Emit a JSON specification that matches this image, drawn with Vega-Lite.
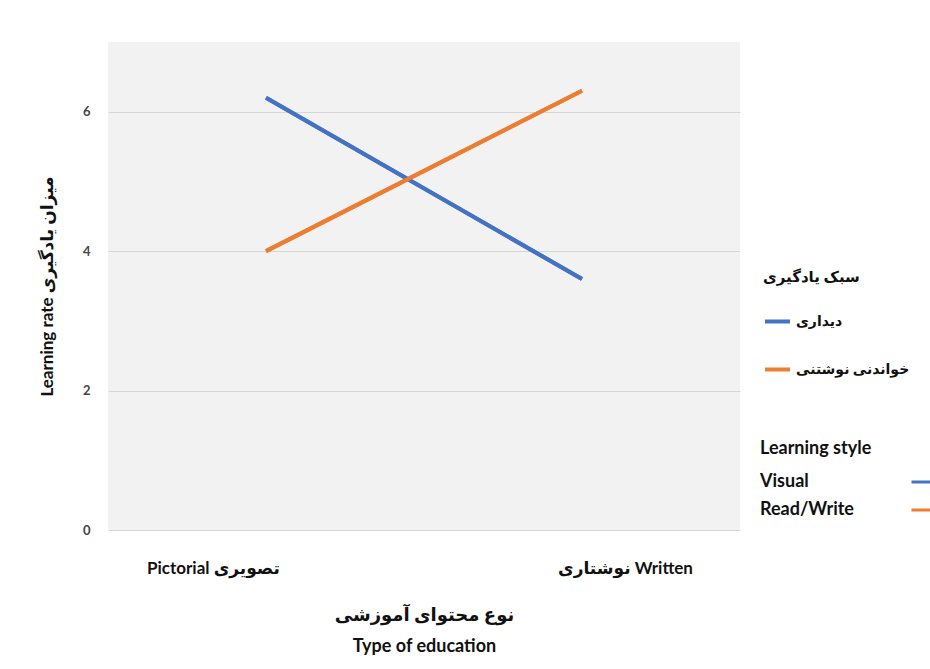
{
  "$schema": "https://vega.github.io/schema/vega-lite/v6.json",
  "width": 632,
  "height": 488,
  "autosize": {"type": "none"},
  "padding": {"left": 108, "top": 42, "right": 190, "bottom": 139},
  "background": "white",
  "config": {
    "font": "Lato, DejaVu Sans",
    "view": {"fill": "#f2f2f2", "stroke": null}
  },
  "data": {
    "values": [
      {"type": "Pictorial تصویری", "style_en": "Visual", "style_fa": "دیداری", "rate": 6.2},
      {"type": "نوشتاری Written", "style_en": "Visual", "style_fa": "دیداری", "rate": 3.6},
      {"type": "Pictorial تصویری", "style_en": "Read/Write", "style_fa": "خواندنی نوشتنی", "rate": 4.0},
      {"type": "نوشتاری Written", "style_en": "Read/Write", "style_fa": "خواندنی نوشتنی", "rate": 6.3}
    ]
  },
  "encoding": {
    "x": {
      "field": "type",
      "type": "nominal",
      "sort": ["Pictorial تصویری", "نوشتاری Written"],
      "scale": {"type": "point", "padding": 0.5},
      "axis": {
        "title": ["نوع محتوای آموزشی", "Type of education"],
        "titleFontSize": 18,
        "titleFontWeight": "bold",
        "titleColor": "#111111",
        "titlePadding": 30,
        "titleLineHeight": 31,
        "labelAngle": 0,
        "labelFontSize": 17,
        "labelFontWeight": "bold",
        "labelColor": "#111111",
        "labelPadding": 30,
        "labelOffset": {"condition": {"test": "datum.value == 'Pictorial تصویری'", "value": -53}, "value": 43},
        "domain": false,
        "ticks": false,
        "grid": false
      }
    },
    "y": {
      "field": "rate",
      "type": "quantitative",
      "scale": {"domain": [0, 7], "nice": false},
      "axis": {
        "title": "Learning rate میزان یادگیری",
        "titleFontSize": 17,
        "titleFontWeight": "bold",
        "titleColor": "#111111",
        "titlePadding": 26,
        "values": [0, 2, 4, 6],
        "labelFontSize": 13,
        "labelFontWeight": "bold",
        "labelColor": "#444444",
        "labelPadding": 18,
        "domain": false,
        "ticks": false,
        "grid": true,
        "gridColor": "#d6d6d6",
        "gridWidth": 1
      }
    }
  },
  "layer": [
    {
      "mark": {"type": "line", "strokeWidth": 4},
      "encoding": {
        "color": {
          "field": "style_fa",
          "type": "nominal",
          "sort": ["دیداری", "خواندنی نوشتنی"],
          "scale": {"domain": ["دیداری", "خواندنی نوشتنی"], "range": ["#4472C4", "#ED7D31"]},
          "legend": {
            "orient": "none",
            "legendX": 655,
            "legendY": 228,
            "title": "سبک یادگیری",
            "titleFontSize": 15,
            "titleFontWeight": "bold",
            "titleColor": "#111111",
            "titlePadding": 22,
            "labelFontSize": 14,
            "labelFontWeight": "bold",
            "labelColor": "#111111",
            "labelOffset": 4,
            "symbolType": "stroke",
            "symbolSize": 625,
            "symbolStrokeWidth": 4,
            "rowPadding": 25
          }
        }
      }
    },
    {
      "mark": {"type": "line", "strokeWidth": 4},
      "encoding": {
        "color": {
          "field": "style_en",
          "type": "nominal",
          "sort": ["Visual", "Read/Write"],
          "scale": {"domain": ["Visual", "Read/Write"], "range": ["#4472C4", "#ED7D31"]},
          "legend": {
            "orient": "none",
            "legendX": 652,
            "legendY": 398,
            "title": "Learning style",
            "titleFontSize": 18,
            "titleFontWeight": "bold",
            "titleColor": "#111111",
            "titlePadding": 10,
            "labelFontSize": 18,
            "labelFontWeight": "bold",
            "labelColor": "#111111",
            "labelOffset": -178,
            "symbolOffset": 150,
            "symbolType": "stroke",
            "symbolSize": 625,
            "symbolStrokeWidth": 3,
            "rowPadding": 5
          }
        }
      }
    }
  ],
  "resolve": {"scale": {"color": "independent"}}
}
